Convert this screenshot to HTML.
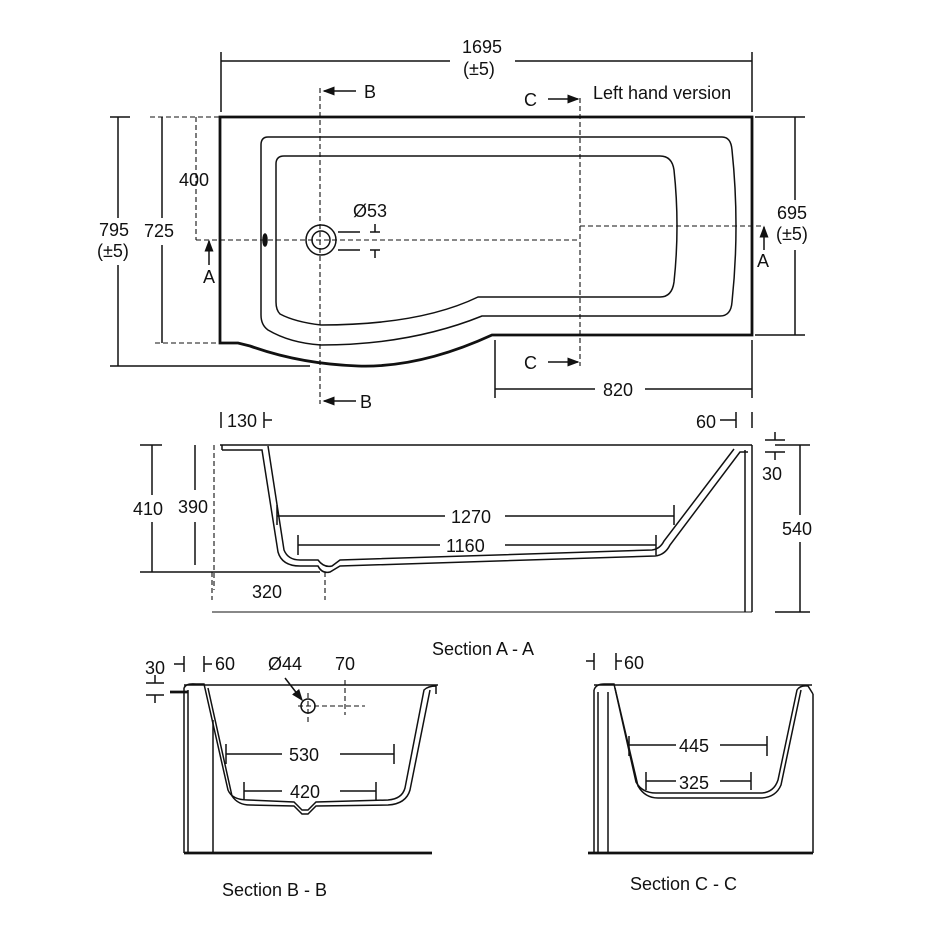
<!DOCTYPE html>
<html><head><style>
html,body{margin:0;padding:0;background:#fff;}
svg{display:block}
text{font-family:"Liberation Sans",Arial,sans-serif;font-size:18px;fill:#111}
</style></head><body>
<svg width="940" height="940" viewBox="0 0 940 940" xmlns="http://www.w3.org/2000/svg">
<defs><marker id="ar" markerWidth="8" markerHeight="8" refX="7" refY="4" orient="auto"><path d="M0,1 L8,4 L0,7z" fill="#111"/></marker></defs>
<g stroke="#111" fill="none" stroke-width="1.5">
<!-- PLAN -->
<path d="M220,117 H752 V335 H492 Q420,368 358,366 Q300,364 250,346 L238,343 H220 Z" stroke-width="2.8"/>
<path d="M268,137 H722 Q731,137 732,150 Q740,226 732,302 Q731,316 720,316 H482 Q410,345 321,345 Q290,343 268,330 Q261,325 261,315 V145 Q261,137 268,137 Z"/>
<path d="M284,156 H660 Q672,156 674,170 Q680,226 674,282 Q672,297 660,297 H478 Q420,325 321,325 Q295,322 280,314 Q276,310 276,302 V164 Q276,156 284,156 Z"/>
<circle cx="321" cy="240" r="15"/><circle cx="321" cy="240" r="9"/>
<ellipse cx="265" cy="240" rx="2" ry="6" fill="#111"/>
<g stroke-dasharray="5,3" stroke-width="1.1">
<line x1="320" y1="88" x2="320" y2="404"/>
<line x1="580" y1="98" x2="580" y2="366"/>
<line x1="196" y1="240" x2="580" y2="240"/>
<line x1="580" y1="226" x2="764" y2="226"/>
<line x1="196" y1="117" x2="196" y2="240"/>
<line x1="150" y1="117" x2="220" y2="117"/>
<line x1="155" y1="343" x2="240" y2="343"/>
</g>
<line x1="338" y1="232" x2="360" y2="232"/><line x1="338" y1="250" x2="360" y2="250"/>
<line x1="370" y1="232" x2="380" y2="232"/><line x1="375" y1="224" x2="375" y2="232"/>
<line x1="370" y1="250" x2="380" y2="250"/><line x1="375" y1="250" x2="375" y2="258"/>
<!-- dims -->
<line x1="221" y1="52" x2="221" y2="112"/><line x1="752" y1="52" x2="752" y2="112"/>
<line x1="221" y1="61" x2="450" y2="61"/><line x1="515" y1="61" x2="752" y2="61"/>
<line x1="110" y1="117" x2="130" y2="117"/><line x1="110" y1="366" x2="310" y2="366"/>
<line x1="118" y1="117" x2="118" y2="218"/><line x1="118" y1="265" x2="118" y2="366"/>
<line x1="162" y1="117" x2="162" y2="218"/><line x1="162" y1="245" x2="162" y2="343"/>
<line x1="755" y1="117" x2="805" y2="117"/><line x1="755" y1="335" x2="805" y2="335"/>
<line x1="795" y1="117" x2="795" y2="200"/><line x1="795" y1="250" x2="795" y2="335"/>
<line x1="495" y1="340" x2="495" y2="398"/><line x1="752" y1="340" x2="752" y2="398"/>
<line x1="495" y1="389" x2="595" y2="389"/><line x1="645" y1="389" x2="752" y2="389"/>
<line x1="356" y1="91" x2="324" y2="91" marker-end="url(#ar)"/>
<line x1="356" y1="401" x2="324" y2="401" marker-end="url(#ar)"/>
<line x1="548" y1="99" x2="578" y2="99" marker-end="url(#ar)"/>
<line x1="548" y1="362" x2="578" y2="362" marker-end="url(#ar)"/>
<line x1="209" y1="265" x2="209" y2="241" marker-end="url(#ar)"/>
<line x1="764" y1="250" x2="764" y2="227" marker-end="url(#ar)"/>
</g>
<g>
<text x="462" y="53">1695</text><text x="463" y="75">(±5)</text>
<text x="364" y="98">B</text><text x="360" y="408">B</text>
<text x="524" y="106">C</text><text x="524" y="369">C</text>
<text x="593" y="99">Left hand version</text>
<text x="179" y="186">400</text><text x="353" y="217">Ø53</text>
<text x="99" y="236">795</text><text x="97" y="257">(±5)</text>
<text x="144" y="237">725</text>
<text x="777" y="219">695</text><text x="776" y="240">(±5)</text>
<text x="203" y="283">A</text><text x="757" y="267">A</text>
<text x="603" y="396">820</text>
</g>
<!-- SECTION A-A -->
<g stroke="#111" fill="none" stroke-width="1.5">
<path d="M220,445 H752"/>
<path d="M222,450 H262 L278,552 Q282,566 300,566 L318,566 Q322,574 330,572 L340,566 L655,556 Q665,555 670,545 L740,452 H748"/>
<path d="M222,445 V450 M268,446 L284,550 Q288,560 300,560 L318,560 Q324,568 332,566 L340,560 L652,550 Q660,549 664,541 L734,449"/>
<path d="M745,450 V612 M752,445 V612"/>
<line x1="212" y1="612" x2="752" y2="612" stroke-width="1.1"/>
<line x1="140" y1="445" x2="162" y2="445"/><line x1="140" y1="572" x2="320" y2="572"/>
<line x1="152" y1="445" x2="152" y2="495"/><line x1="152" y1="522" x2="152" y2="572"/>
<line x1="195" y1="445" x2="195" y2="490"/><line x1="195" y1="522" x2="195" y2="565"/>
<line x1="277" y1="505" x2="277" y2="525"/><line x1="674" y1="505" x2="674" y2="525"/>
<line x1="277" y1="516" x2="445" y2="516"/><line x1="505" y1="516" x2="674" y2="516"/>
<line x1="298" y1="535" x2="298" y2="555"/><line x1="656" y1="535" x2="656" y2="555"/>
<line x1="298" y1="545" x2="440" y2="545"/><line x1="505" y1="545" x2="656" y2="545"/>
<line x1="775" y1="445" x2="810" y2="445"/><line x1="775" y1="612" x2="810" y2="612"/>
<line x1="800" y1="445" x2="800" y2="515"/><line x1="800" y1="542" x2="800" y2="612"/>
<line x1="765" y1="440" x2="785" y2="440"/><line x1="765" y1="452" x2="785" y2="452"/>
<line x1="775" y1="432" x2="775" y2="440"/><line x1="775" y1="452" x2="775" y2="460"/>
<line x1="221" y1="412" x2="221" y2="428"/><line x1="264" y1="412" x2="264" y2="428"/><line x1="264" y1="420" x2="272" y2="420"/>
<line x1="736" y1="412" x2="736" y2="428"/><line x1="752" y1="412" x2="752" y2="428"/><line x1="720" y1="420" x2="736" y2="420"/>
<g stroke-dasharray="5,3" stroke-width="1.1"><line x1="214" y1="445" x2="214" y2="590"/><line x1="325" y1="572" x2="325" y2="600"/><line x1="212" y1="572" x2="212" y2="600"/></g>
</g>
<g>
<text x="227" y="427">130</text><text x="696" y="428">60</text><text x="762" y="480">30</text>
<text x="133" y="515">410</text><text x="178" y="513">390</text>
<text x="451" y="523">1270</text><text x="446" y="552">1160</text>
<text x="252" y="598">320</text><text x="782" y="535">540</text>
<text x="432" y="655">Section A - A</text>
</g>
<!-- SECTION B-B -->
<g stroke="#111" fill="none" stroke-width="1.5">
<path d="M184,685 H438"/>
<path d="M184,688 Q186,683 196,684 H204 L228,790 Q232,800 248,800 L294,802 L302,810 H308 L316,802 L388,800 Q402,799 405,788 L424,690 Q428,686 436,686 V694"/>
<path d="M208,688 L232,796 Q238,805 250,805 L294,806 L302,814 H308 L316,806 L388,805 Q406,804 410,790 L430,690"/>
<path d="M184,688 V853 M188,690 V853 M213,720 V853"/>
<line x1="184" y1="853" x2="432" y2="853" stroke-width="2.8"/>
<line x1="170" y1="692" x2="188" y2="692" stroke-width="2.8"/>
<line x1="226" y1="744" x2="226" y2="764"/><line x1="394" y1="744" x2="394" y2="764"/>
<line x1="226" y1="754" x2="282" y2="754"/><line x1="340" y1="754" x2="394" y2="754"/>
<line x1="244" y1="782" x2="244" y2="800"/><line x1="376" y1="782" x2="376" y2="800"/>
<line x1="244" y1="791" x2="282" y2="791"/><line x1="340" y1="791" x2="376" y2="791"/>
<circle cx="308" cy="706" r="7"/>
<line x1="285" y1="678" x2="302" y2="700" marker-end="url(#ar)"/>
<g stroke-dasharray="5,3" stroke-width="1.1"><line x1="298" y1="706" x2="365" y2="706"/><line x1="308" y1="693" x2="308" y2="722"/><line x1="345" y1="680" x2="345" y2="715"/></g>
<line x1="184" y1="656" x2="184" y2="672"/><line x1="174" y1="664" x2="184" y2="664"/>
<line x1="204" y1="656" x2="204" y2="672"/><line x1="204" y1="664" x2="212" y2="664"/>
<line x1="146" y1="683" x2="164" y2="683"/><line x1="146" y1="695" x2="164" y2="695"/>
<line x1="155" y1="675" x2="155" y2="683"/><line x1="155" y1="695" x2="155" y2="703"/>
</g>
<g>
<text x="145" y="674">30</text><text x="215" y="670">60</text><text x="268" y="670">Ø44</text><text x="335" y="670">70</text>
<text x="289" y="761">530</text><text x="290" y="798">420</text>
<text x="222" y="896">Section B - B</text>
</g>
<!-- SECTION C-C -->
<g stroke="#111" fill="none" stroke-width="1.5">
<path d="M594,685 H812"/>
<path d="M594,690 Q596,684 604,684 H614 L636,782 Q642,793 656,793 H762 Q774,792 778,780 L797,690 Q800,685 808,686 L813,694"/>
<path d="M615,688 L638,786 Q645,798 658,798 H762 Q776,797 781,785 L801,690"/>
<path d="M594,690 V853 M598,692 V853 M608,692 V853 M813,694 V853"/>
<line x1="588" y1="853" x2="813" y2="853" stroke-width="2.8"/>
<line x1="629" y1="736" x2="629" y2="756"/><line x1="767" y1="736" x2="767" y2="756"/>
<line x1="629" y1="745" x2="676" y2="745"/><line x1="720" y1="745" x2="767" y2="745"/>
<line x1="646" y1="772" x2="646" y2="790"/><line x1="751" y1="772" x2="751" y2="790"/>
<line x1="646" y1="781" x2="676" y2="781"/><line x1="720" y1="781" x2="751" y2="781"/>
<line x1="594" y1="653" x2="594" y2="670"/><line x1="586" y1="661" x2="594" y2="661"/>
<line x1="616" y1="653" x2="616" y2="670"/><line x1="616" y1="661" x2="622" y2="661"/>
</g>
<g>
<text x="624" y="669">60</text>
<text x="679" y="752">445</text><text x="679" y="789">325</text>
<text x="630" y="890">Section C - C</text>
</g>
</svg>
</body></html>
